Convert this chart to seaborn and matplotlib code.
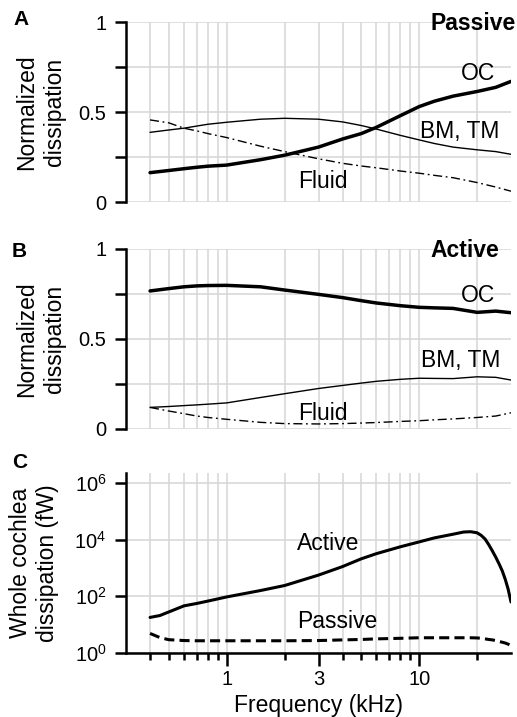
import matplotlib
matplotlib.use("Agg")
import matplotlib.pyplot as plt
import seaborn as sns
from matplotlib.ticker import FixedLocator, FixedFormatter, NullFormatter

# ---- data -------------------------------------------------------------
freq_norm = [0.4, 0.5, 0.6, 0.7, 0.8, 1, 1.5, 2, 3, 4, 5, 6, 8, 10, 12, 15, 20, 25, 30]

passive_oc = [0.163, 0.175, 0.185, 0.193, 0.199, 0.205, 0.235, 0.26, 0.305, 0.35,
              0.38, 0.415, 0.48, 0.53, 0.56, 0.588, 0.614, 0.637, 0.67]
passive_bm = [0.387, 0.40, 0.41, 0.422, 0.432, 0.443, 0.46, 0.465, 0.46, 0.445,
              0.425, 0.405, 0.37, 0.345, 0.325, 0.305, 0.29, 0.28, 0.265]
passive_fluid = [0.456, 0.44, 0.41, 0.395, 0.38, 0.358, 0.31, 0.28, 0.24, 0.215,
                 0.2, 0.19, 0.172, 0.16, 0.148, 0.135, 0.108, 0.083, 0.06]

active_oc = [0.767, 0.78, 0.79, 0.795, 0.797, 0.798, 0.79, 0.772, 0.748, 0.73,
             0.713, 0.70, 0.685, 0.676, 0.673, 0.67, 0.648, 0.655, 0.646]
active_bm = [0.12, 0.125, 0.13, 0.134, 0.138, 0.145, 0.175, 0.196, 0.225, 0.242,
             0.255, 0.265, 0.276, 0.282, 0.281, 0.28, 0.29, 0.287, 0.272]
active_fluid = [0.12, 0.10, 0.085, 0.072, 0.064, 0.054, 0.037, 0.03, 0.028, 0.03,
                0.033, 0.036, 0.042, 0.046, 0.051, 0.056, 0.064, 0.072, 0.09]

freq_whole = [0.4, 0.45, 0.5, 0.6, 0.7, 0.8, 1, 1.5, 2, 3, 4, 5, 6, 8, 10, 12, 15,
              17, 18.5, 20, 21, 22, 23, 24, 25, 26, 27, 28, 29, 30]
whole_active = [18, 21, 28, 46, 56, 68, 95, 160, 240, 560, 1120, 2100, 3200, 5600,
                8300, 11500, 15500, 18500, 19000, 17400, 14100, 10500, 6600, 4000,
                2400, 1400, 800, 400, 178, 63]
whole_passive = [4.9, 3.5, 2.95, 2.75, 2.7, 2.7, 2.7, 2.7, 2.7, 2.75, 2.9, 3.0, 3.15,
                 3.3, 3.45, 3.45, 3.45, 3.45, 3.45, 3.4, 3.3, 3.15, 3.0, 2.9, 2.75,
                 2.55, 2.4, 2.25, 2.05, 1.8]

grid_freqs = [0.4, 0.5, 0.6, 0.7, 0.8, 0.9, 1, 2, 3, 4, 5, 6, 7, 8, 9, 10, 20]
major_freqs = [1, 3, 10]
major_freq_labels = ["1", "3", "10"]
norm_ticks = [0, 0.25, 0.5, 0.75, 1]
norm_tick_labels = ["0", "", "0.5", "", "1"]
power_ticks = [1, 1e2, 1e4, 1e6]
power_tick_labels = [r"$\mathregular{10^{0}}$", r"$\mathregular{10^{2}}$",
                     r"$\mathregular{10^{4}}$", r"$\mathregular{10^{6}}$"]

# ---- style ------------------------------------------------------------
sns.set_style("white")
plt.rcParams["font.family"] = ["Liberation Sans", "DejaVu Sans"]
plt.rcParams["mathtext.fontset"] = "custom"
plt.rcParams["mathtext.rm"] = "Liberation Sans"
plt.rcParams["text.color"] = "black"
plt.rcParams["axes.labelcolor"] = "black"
plt.rcParams["xtick.color"] = "black"
plt.rcParams["ytick.color"] = "black"

GRID = "#d6d6d6"
TICK_FS = 14.5
LABEL_FS = 16.5
SPINE_W = 1.8
DASHDOT = (0, (6.5, 2.6, 1.3, 2.6))

fig = plt.figure(figsize=(5.17, 7.17), dpi=100)
L, W, H = 126 / 517, 385 / 517, 180 / 717
axA = fig.add_axes([L, 1 - 202 / 717, W, H])
axB = fig.add_axes([L, 1 - 429 / 717, W, H])
axC = fig.add_axes([L, 1 - 653 / 717, W, H])


def base_axes(ax, bottom_visible):
    ax.set_xscale("log")
    ax.set_axisbelow(True)
    for side in ["top", "right"]:
        ax.spines[side].set_visible(False)
    ax.spines["bottom"].set_visible(bottom_visible)
    ax.spines["left"].set_linewidth(SPINE_W)
    ax.spines["left"].set_color("black")
    ax.spines["bottom"].set_linewidth(SPINE_W)
    ax.spines["bottom"].set_color("black")
    ax.xaxis.set_major_locator(FixedLocator(major_freqs))
    ax.xaxis.set_minor_locator(FixedLocator([f for f in grid_freqs if f not in major_freqs]))
    ax.grid(True, which="both", axis="x", color=GRID, lw=1.1)
    ax.grid(True, which="major", axis="y", color=GRID, lw=1.1)
    ax.tick_params(axis="y", which="both", left=True, direction="out", length=8,
                   width=SPINE_W, pad=6, labelsize=TICK_FS, color="black",
                   labelcolor="black")
    ax.set_facecolor("white")


def norm_panel(ax, oc, bm, fluid):
    base_axes(ax, bottom_visible=False)
    sns.lineplot(x=freq_norm, y=oc, ax=ax, color="black", linewidth=2.5)
    sns.lineplot(x=freq_norm, y=bm, ax=ax, color="black", linewidth=1.0)
    sns.lineplot(x=freq_norm, y=fluid, ax=ax, color="black", linewidth=1.0,
                 linestyle=DASHDOT)
    ax.set_xlim(0.3, 30)
    ax.set_ylim(0, 1)
    ax.yaxis.set_major_locator(FixedLocator(norm_ticks))
    ax.yaxis.set_major_formatter(FixedFormatter(norm_tick_labels))
    ax.tick_params(axis="x", which="both", bottom=False, labelbottom=False)
    ax.xaxis.set_major_formatter(NullFormatter())
    ax.xaxis.set_minor_formatter(NullFormatter())
    ax.set_xlabel("")
    ax.set_ylabel("Normalized\ndissipation", fontsize=LABEL_FS, linespacing=1.25,
                  color="black")
    ax.yaxis.set_label_coords(-0.156, 0.5)


norm_panel(axA, passive_oc, passive_bm, passive_fluid)
norm_panel(axB, active_oc, active_bm, active_fluid)

# panel A annotations
axA.text(0.79, 0.956, "Passive", transform=axA.transAxes, fontsize=LABEL_FS,
         fontweight="bold", ha="left", va="baseline")
axA.text(0.870, 0.678, "OC", transform=axA.transAxes, fontsize=LABEL_FS, va="baseline")
axA.text(0.764, 0.356, "BM, TM", transform=axA.transAxes, fontsize=LABEL_FS, va="baseline")
axA.text(0.447, 0.078, "Fluid", transform=axA.transAxes, fontsize=LABEL_FS, va="baseline")

# panel B annotations
axB.text(0.79, 0.956, "Active", transform=axB.transAxes, fontsize=LABEL_FS,
         fontweight="bold", ha="left", va="baseline")
axB.text(0.870, 0.706, "OC", transform=axB.transAxes, fontsize=LABEL_FS, va="baseline")
axB.text(0.766, 0.344, "BM, TM", transform=axB.transAxes, fontsize=LABEL_FS, va="baseline")
axB.text(0.447, 0.050, "Fluid", transform=axB.transAxes, fontsize=LABEL_FS, va="baseline")

# ---- panel C: whole-cochlea power -------------------------------------
base_axes(axC, bottom_visible=True)
axC.set_yscale("log")
sns.lineplot(x=freq_whole, y=whole_active, ax=axC, color="black", linewidth=2.2)
sns.lineplot(x=freq_whole, y=whole_passive, ax=axC, color="black", linewidth=2.2,
             linestyle=(0, (3.3, 1.7)))
axC.set_xlim(0.3, 30)
axC.set_ylim(1, 10 ** 6.35)
axC.yaxis.set_major_locator(FixedLocator(power_ticks))
axC.yaxis.set_major_formatter(FixedFormatter(power_tick_labels))
axC.yaxis.set_minor_locator(FixedLocator([]))
axC.xaxis.set_major_formatter(FixedFormatter(major_freq_labels))
axC.xaxis.set_minor_formatter(NullFormatter())
axC.tick_params(axis="x", which="major", bottom=True, direction="out", length=9.5,
                width=SPINE_W, pad=3, labelsize=TICK_FS, color="black",
                labelcolor="black")
axC.tick_params(axis="x", which="minor", bottom=True, direction="out", length=5,
                width=SPINE_W, color="black")
axC.set_xlabel("Frequency (kHz)", fontsize=LABEL_FS, labelpad=3, color="black")
axC.set_ylabel("Whole cochlea\ndissipation (fW)", fontsize=LABEL_FS, linespacing=1.25,
               color="black")
axC.yaxis.set_label_coords(-0.174, 0.5)

axC.text(0.444, 0.572, "Active", transform=axC.transAxes, fontsize=LABEL_FS, va="baseline")
axC.text(0.444, 0.139, "Passive", transform=axC.transAxes, fontsize=LABEL_FS, va="baseline")

# panel letters
fig.text(13 / 517, 1 - 25 / 717, "A", fontsize=15, fontweight="bold", va="baseline")
fig.text(12 / 517, 1 - 257 / 717, "B", fontsize=15, fontweight="bold", va="baseline")
fig.text(12 / 517, 1 - 468 / 717, "C", fontsize=15, fontweight="bold", va="baseline")

fig.savefig("out.png", dpi=100, facecolor="white")
